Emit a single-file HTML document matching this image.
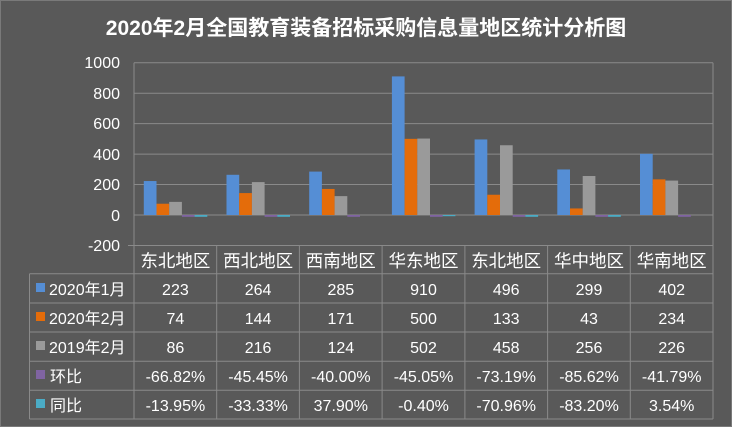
<!DOCTYPE html>
<html><head><meta charset="utf-8"><style>
html,body{margin:0;padding:0;background:#595959;}
svg{display:block;}
text{font-family:"Liberation Sans","Noto Sans CJK SC",sans-serif;fill:#fff;}
</style></head><body>
<svg width="732" height="427" viewBox="0 0 732 427" xmlns="http://www.w3.org/2000/svg">
<rect x="0" y="0" width="732" height="427" fill="#595959"/>
<rect x="0.5" y="0.5" width="731" height="426" fill="none" stroke="#7a7a7a"/>
<text x="366" y="35" font-size="21" font-weight="bold" text-anchor="middle">2020年2月全国教育装备招标采购信息量地区统计分析图</text>
<g stroke="#8a8a8a" stroke-width="1">
<line x1="134" y1="62.7" x2="713" y2="62.7"/>
<line x1="134" y1="93.2" x2="713" y2="93.2"/>
<line x1="134" y1="123.6" x2="713" y2="123.6"/>
<line x1="134" y1="154.1" x2="713" y2="154.1"/>
<line x1="134" y1="184.5" x2="713" y2="184.5"/>
<line x1="134" y1="215" x2="713" y2="215"/>
<line x1="134" y1="245.5" x2="713" y2="245.5"/>
<line x1="134" y1="62.7" x2="134" y2="419"/>
<line x1="128" y1="245.5" x2="134" y2="245.5"/>
</g>
<g font-size="16" text-anchor="end">
<text x="120" y="68">1000</text><text x="120" y="99">800</text><text x="120" y="129">600</text><text x="120" y="160">400</text><text x="120" y="190">200</text><text x="120" y="221">0</text><text x="120" y="251">-200</text>
</g>
<g>
<rect x="143.8" y="181.04" width="12.7" height="33.96" fill="#558ed5"/><rect x="156.5" y="203.73" width="12.7" height="11.27" fill="#e46c0a"/><rect x="169.2" y="201.9" width="12.7" height="13.1" fill="#9a9a9a"/>
<rect x="226.5" y="174.79" width="12.7" height="40.21" fill="#558ed5"/><rect x="239.2" y="193.07" width="12.7" height="21.93" fill="#e46c0a"/><rect x="251.9" y="182.1" width="12.7" height="32.9" fill="#9a9a9a"/>
<rect x="309.2" y="171.59" width="12.7" height="43.41" fill="#558ed5"/><rect x="321.9" y="188.96" width="12.7" height="26.04" fill="#e46c0a"/><rect x="334.6" y="196.11" width="12.7" height="18.89" fill="#9a9a9a"/>
<rect x="391.9" y="76.4" width="12.7" height="138.6" fill="#558ed5"/><rect x="404.6" y="138.85" width="12.7" height="76.15" fill="#e46c0a"/><rect x="417.3" y="138.55" width="12.7" height="76.45" fill="#9a9a9a"/>
<rect x="474.6" y="139.46" width="12.7" height="75.54" fill="#558ed5"/><rect x="487.3" y="194.74" width="12.7" height="20.26" fill="#e46c0a"/><rect x="500" y="145.25" width="12.7" height="69.75" fill="#9a9a9a"/>
<rect x="557.3" y="169.46" width="12.7" height="45.54" fill="#558ed5"/><rect x="570" y="208.45" width="12.7" height="6.55" fill="#e46c0a"/><rect x="582.7" y="176.01" width="12.7" height="38.99" fill="#9a9a9a"/>
<rect x="640" y="153.78" width="12.7" height="61.22" fill="#558ed5"/><rect x="652.7" y="179.36" width="12.7" height="35.64" fill="#e46c0a"/><rect x="665.4" y="180.58" width="12.7" height="34.42" fill="#9a9a9a"/>
<rect x="181.9" y="215" width="12.7" height="1.8" fill="#8064a2"/><rect x="194.6" y="215" width="12.7" height="1.8" fill="#4bacc6"/>
<rect x="264.6" y="215" width="12.7" height="1.8" fill="#8064a2"/><rect x="277.3" y="215" width="12.7" height="1.8" fill="#4bacc6"/>
<rect x="347.3" y="215" width="12.7" height="1.8" fill="#8064a2"/>
<rect x="430" y="215" width="12.7" height="1.8" fill="#8064a2"/><rect x="442.7" y="215" width="12.7" height="1.2" fill="#4bacc6"/>
<rect x="512.7" y="215" width="12.7" height="1.8" fill="#8064a2"/><rect x="525.4" y="215" width="12.7" height="1.8" fill="#4bacc6"/>
<rect x="595.4" y="215" width="12.7" height="1.8" fill="#8064a2"/><rect x="608.1" y="215" width="12.7" height="1.8" fill="#4bacc6"/>
<rect x="678.1" y="215" width="12.7" height="1.8" fill="#8064a2"/>
</g>
<g stroke="#8a8a8a" stroke-width="1" fill="none">
<line x1="29.5" y1="273.7" x2="713" y2="273.7"/>
<line x1="29.5" y1="303" x2="713" y2="303"/>
<line x1="29.5" y1="332" x2="713" y2="332"/>
<line x1="29.5" y1="361.3" x2="713" y2="361.3"/>
<line x1="29.5" y1="390.3" x2="713" y2="390.3"/>
<line x1="29.5" y1="419" x2="713" y2="419"/>
<line x1="29.5" y1="273.7" x2="29.5" y2="419"/>
<line x1="713" y1="62.7" x2="713" y2="419"/>
<line x1="216.7" y1="245.5" x2="216.7" y2="419"/>
<line x1="299.4" y1="245.5" x2="299.4" y2="419"/>
<line x1="382.1" y1="245.5" x2="382.1" y2="419"/>
<line x1="464.9" y1="245.5" x2="464.9" y2="419"/>
<line x1="547.6" y1="245.5" x2="547.6" y2="419"/>
<line x1="630.3" y1="245.5" x2="630.3" y2="419"/>
</g>
<g font-size="17.5" text-anchor="middle">
<text x="175.4" y="267">东北地区</text><text x="258.1" y="267">西北地区</text><text x="340.8" y="267">西南地区</text><text x="423.5" y="267">华东地区</text><text x="506.2" y="267">东北地区</text><text x="589" y="267">华中地区</text><text x="671.7" y="267">华南地区</text>
</g>
<g font-size="16">
<rect x="36" y="283" width="9" height="9" fill="#558ed5"/><text x="49" y="295">2020年1月</text>
<rect x="36" y="312" width="9" height="9" fill="#e46c0a"/><text x="49" y="324">2020年2月</text>
<rect x="36" y="341" width="9" height="9" fill="#9a9a9a"/><text x="49" y="353">2019年2月</text>
<rect x="36" y="370" width="9" height="9" fill="#8064a2"/><text x="50" y="382">环比</text>
<rect x="36" y="399" width="9" height="9" fill="#4bacc6"/><text x="50" y="411">同比</text>
</g>
<g font-size="16" text-anchor="middle">
<text x="175.4" y="295">223</text><text x="258.1" y="295">264</text><text x="340.8" y="295">285</text><text x="423.5" y="295">910</text><text x="506.2" y="295">496</text><text x="589" y="295">299</text><text x="671.7" y="295">402</text>
<text x="175.4" y="324">74</text><text x="258.1" y="324">144</text><text x="340.8" y="324">171</text><text x="423.5" y="324">500</text><text x="506.2" y="324">133</text><text x="589" y="324">43</text><text x="671.7" y="324">234</text>
<text x="175.4" y="353">86</text><text x="258.1" y="353">216</text><text x="340.8" y="353">124</text><text x="423.5" y="353">502</text><text x="506.2" y="353">458</text><text x="589" y="353">256</text><text x="671.7" y="353">226</text>
<text x="175.4" y="382">-66.82%</text><text x="258.1" y="382">-45.45%</text><text x="340.8" y="382">-40.00%</text><text x="423.5" y="382">-45.05%</text><text x="506.2" y="382">-73.19%</text><text x="589" y="382">-85.62%</text><text x="671.7" y="382">-41.79%</text>
<text x="175.4" y="411">-13.95%</text><text x="258.1" y="411">-33.33%</text><text x="340.8" y="411">37.90%</text><text x="423.5" y="411">-0.40%</text><text x="506.2" y="411">-70.96%</text><text x="589" y="411">-83.20%</text><text x="671.7" y="411">3.54%</text>
</g>
</svg>
</body></html>
